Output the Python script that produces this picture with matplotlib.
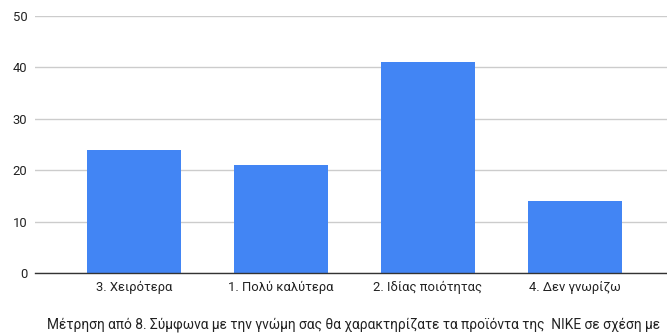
import matplotlib.pyplot as plt

categories = ['3. Χειρότερα', '1. Πολύ καλύτερα', '2. Ιδίας ποιότητας', '4. Δεν γνωρίζω']
counts = [24, 21, 41, 14]
caption = 'Μέτρηση από 8. Σύμφωνα με την γνώμη σας θα χαρακτηρίζατε τα προϊόντα της  NIKE σε σχέση με'

plt.rcParams['font.family'] = ['Roboto', 'DejaVu Sans']

fig = plt.figure(figsize=(6.67, 3.34), dpi=100)
ax = fig.add_axes([35 / 667, 1 - 273 / 334, 1 - 35 / 667, (273 - 16) / 334])

x = list(range(len(categories)))
ax.bar(x, counts, width=0.64, color='#4285f4', zorder=3)

ax.set_xlim(-0.673, 3.626)
ax.set_ylim(0, 50)
ax.set_yticks([0, 10, 20, 30, 40, 50])
ax.set_xticks(x)
ax.set_xticklabels(categories)
ax.tick_params(axis='both', length=0, labelsize=9.4, colors='#222222')
ax.tick_params(axis='y', pad=5.5)
ax.tick_params(axis='x', pad=6)
ax.grid(axis='y', color='#cccccc', linewidth=1, zorder=0)
ax.set_axisbelow(True)

for side in ['top', 'right', 'left']:
    ax.spines[side].set_visible(False)
ax.spines['bottom'].set_color('#333333')
ax.spines['bottom'].set_linewidth(1)
ax.spines['bottom'].set_zorder(4)

fig.text(47 / 667, 1 - 325 / 334, caption, ha='left', va='center',
         fontsize=9.9, color='#222222')

fig.savefig('out.png', dpi=100)
